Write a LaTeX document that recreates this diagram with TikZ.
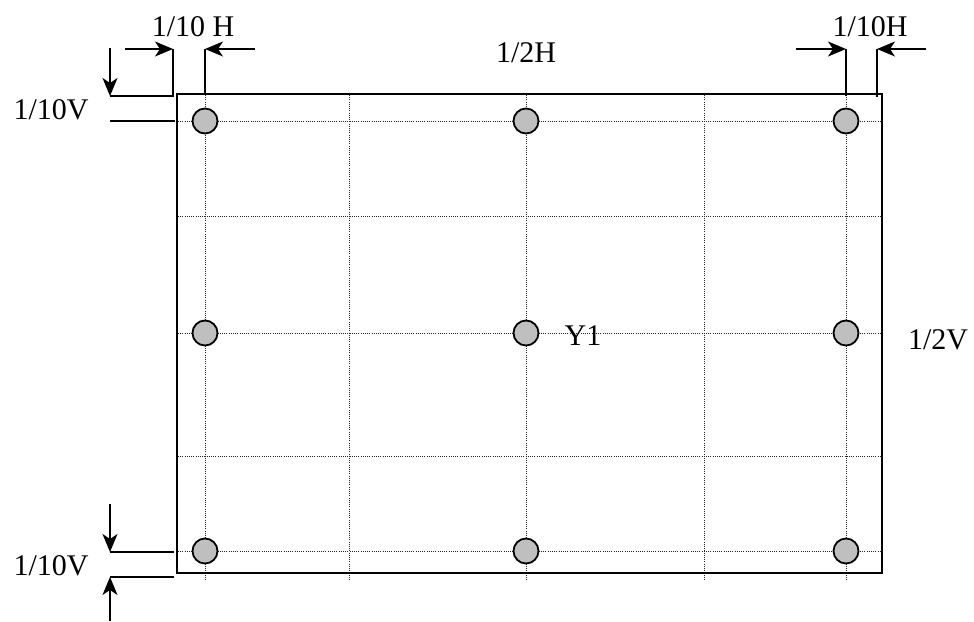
\documentclass[tikz,border=0pt]{standalone}
\usepackage{fontspec}
\setmainfont{Liberation Serif}
\usetikzlibrary{arrows.meta}
\tikzset{hole/.append style={circle,draw,line width=1.8pt,fill=black!25,minimum size=25pt,inner sep=0pt}}
\tikzset{dim/.append style={line width=1.8pt,-{Stealth[length=18pt,width=15pt,inset=5pt]}}}
\tikzset{ext/.append style={line width=1.8pt}}
\tikzset{grd/.append style={line width=0.9pt,dash pattern=on 1pt off 1.2pt,black!85}}
\tikzset{lbl/.append style={anchor=base,inner sep=0pt,font=\fontsize{30}{36}\selectfont}}

\begin{document}
\begin{tikzpicture}[x=1pt,y=-1pt]
                \useasboundingbox (0,0) rectangle (974,621);
                % \SetUpGrid
                \foreach \gx in {205,349,526,704,846} \draw[grd] (\gx,95) -- (\gx,580);
                \foreach \gy in {121,216,333,456,551} \draw[grd] (178,\gy) -- (882,\gy);
                \coordinate (nw) at (177,94);
                \coordinate (se) at (882,573);
                \draw[line width=2pt] (nw) rectangle (se);
                % \SetUpHoles
                \node[hole] (h11) at (205,121) {};
                \node[hole] (h12) at (526,121) {};
                \node[hole] (h13) at (846,121) {};
                \node[hole] (h21) at (205,333) {};
                \node[hole] (h22) at (526,333) {};
                \node[hole] (h23) at (846,333) {};
                \node[hole] (h31) at (205,551) {};
                \node[hole] (h32) at (526,551) {};
                \node[hole] (h33) at (846,551) {};
                % labels
                \node[lbl] (tH1) at (193,36) {1/10 H};
                \node[lbl] (tH2) at (870,36) {1/10H};
                \node[lbl] (tH) at (526,62) {1/2H};
                \node[lbl] (tV1) at (51,119) {1/10V};
                \node[lbl] (tV2) at (51,575) {1/10V};
                \node[lbl] (tY) at (583,345) {Y1};
                \node[lbl] (tV) at (938,349) {1/2V};
                % top left
                \coordinate (a1) at (125,49); \coordinate (a2) at (173,49);
                \coordinate (a3) at (173,96); \coordinate (a4) at (110,96);
                \coordinate (a5) at (110,48);
                \coordinate (b1) at (255,49); \coordinate (b2) at (205,49);
                \coordinate (b3) at (205,94);
                \coordinate (c1) at (110,121); \coordinate (c2) at (175,121);
                \draw[dim] (a1) -- (a2);
                \draw[ext] (a2) -- (a3) -- (a4);
                \draw[dim] (a5) -- (a4);
                \draw[dim] (b1) -- (b2);
                \draw[ext] (b2) -- (b3);
                \draw[ext] (c1) -- (c2);
                % top right
                \coordinate (d1) at (796,49); \coordinate (d2) at (846,49);
                \coordinate (d3) at (846,96);
                \coordinate (e1) at (926,49); \coordinate (e2) at (877,49);
                \coordinate (e3) at (877,97);
                \draw[dim] (d1) -- (d2);
                \draw[ext] (d2) -- (d3);
                \draw[dim] (e1) -- (e2);
                \draw[ext] (e2) -- (e3);
                % bottom left
                \coordinate (f1) at (110,504); \coordinate (f2) at (110,552);
                \coordinate (f3) at (174,552);
                \coordinate (g1) at (110,621); \coordinate (g2) at (110,577);
                \coordinate (g3) at (174,577);
                \draw[dim] (f1) -- (f2);
                \draw[ext] (f2) -- (f3);
                \draw[dim] (g1) -- (g2);
                \draw[ext] (g2) -- (g3);
            \end{tikzpicture}
\end{document}
